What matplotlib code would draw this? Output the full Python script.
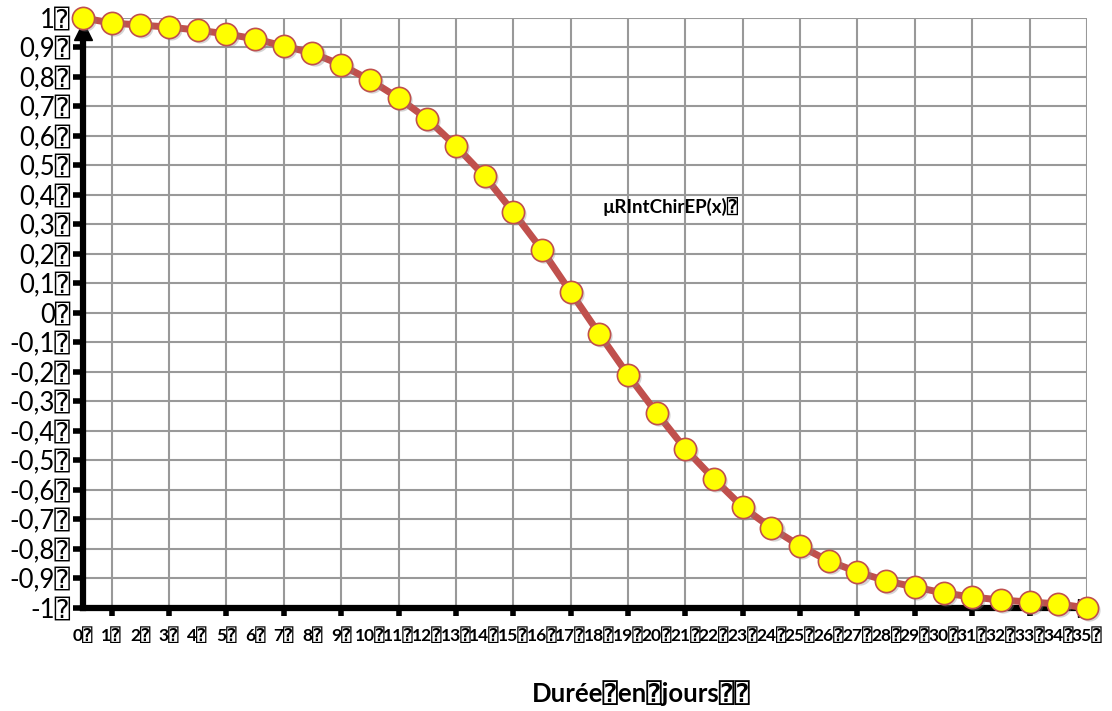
import matplotlib.pyplot as plt
import matplotlib.transforms as mtransforms

# données
jours = list(range(0, 36))
valeurs = [1.0, 0.983, 0.976, 0.969, 0.959, 0.946, 0.929, 0.905, 0.881, 0.841,
           0.790, 0.729, 0.658, 0.566, 0.464, 0.342, 0.214, 0.071, -0.071, -0.210,
           -0.339, -0.461, -0.563, -0.658, -0.729, -0.790, -0.841, -0.878, -0.908, -0.929,
           -0.949, -0.963, -0.973, -0.980, -0.986, -1.0]

y_ticks = [1.0, 0.9, 0.8, 0.7, 0.6, 0.5, 0.4, 0.3, 0.2, 0.1, 0.0,
           -0.1, -0.2, -0.3, -0.4, -0.5, -0.6, -0.7, -0.8, -0.9, -1.0]
y_labels = ["1⍰", "0,9⍰", "0,8⍰", "0,7⍰", "0,6⍰", "0,5⍰", "0,4⍰", "0,3⍰", "0,2⍰", "0,1⍰", "0⍰",
            "-0,1⍰", "-0,2⍰", "-0,3⍰", "-0,4⍰", "-0,5⍰", "-0,6⍰", "-0,7⍰", "-0,8⍰", "-0,9⍰", "-1⍰"]
x_labels = [f"{j}⍰" for j in jours]
x_marques = list(range(1, 36, 2))

titre_serie = "µRIntChirEP(x)⍰"
titre_x = "Durée⍰en⍰jours⍰⍰"

polices = ['Lato', 'DejaVu Sans Mono', 'DejaVu Sans']
plt.rcParams['font.family'] = polices

fig = plt.figure(figsize=(11.12, 7.11), dpi=100)
ax = fig.add_axes([0.0746, 0.1449, 0.9029, 0.8298])

rouge = '#C0504D'
# ligne
ax.plot(jours, valeurs, color=rouge, linewidth=5, clip_on=False, zorder=4)
# ombre des marqueurs
ombre = mtransforms.offset_copy(ax.transData, fig=fig, x=1.5, y=-1.5, units='points')
ax.plot(jours, valeurs, linestyle='none', marker='o', markersize=16,
        markerfacecolor='#888888', markeredgecolor='none', alpha=0.35,
        transform=ombre, clip_on=False, zorder=4.5)
# marqueurs
ax.plot(jours, valeurs, linestyle='none', marker='o', markersize=16,
        markerfacecolor='#FFFF00', markeredgecolor=rouge, markeredgewidth=1.2,
        clip_on=False, zorder=5)

ax.set_xlim(0, 35)
ax.set_ylim(-1, 1)

ax.xaxis.remove_overlapping_locs = False
ax.set_yticks(y_ticks)
ax.set_yticklabels(y_labels, fontsize=18.5)
ax.set_xticks(jours)
ax.set_xticklabels(x_labels, fontsize=12.5, fontweight='bold')
ax.set_xticks(x_marques, minor=True)

ax.tick_params(axis='y', which='major', length=7, width=4, color='black', pad=2)
ax.tick_params(axis='x', which='major', length=0, pad=14)
ax.tick_params(axis='x', which='minor', length=6, width=4, color='black')

ax.grid(True, axis='y', which='major', color='#999999', linewidth=1.5)
ax.grid(True, axis='x', which='minor', color='#999999', linewidth=1.5)
ax.set_axisbelow(True)

for cote in ['top', 'right']:
    ax.spines[cote].set_visible(False)
for cote in ['left', 'bottom']:
    ax.spines[cote].set_linewidth(4.5)
    ax.spines[cote].set_color('black')
    ax.spines[cote].set_zorder(3)

# fleches des axes
ax.plot(0, 0.978, marker='^', color='black', markersize=13, transform=ax.transAxes,
        clip_on=False, zorder=3.5)
ax.plot(1.0, 0, marker='>', color='black', markersize=13, transform=ax.transAxes,
        clip_on=False, zorder=3.5)

ax.text(18.1, 0.356, titre_serie, fontsize=13.5, fontweight='bold', va='center', ha='left',
        family=polices)

fig.text(0.577, 0.025, titre_x, fontsize=18.5, fontweight='bold', ha='center', va='center',
         family=polices)

fig.savefig('out.png', dpi=100)
